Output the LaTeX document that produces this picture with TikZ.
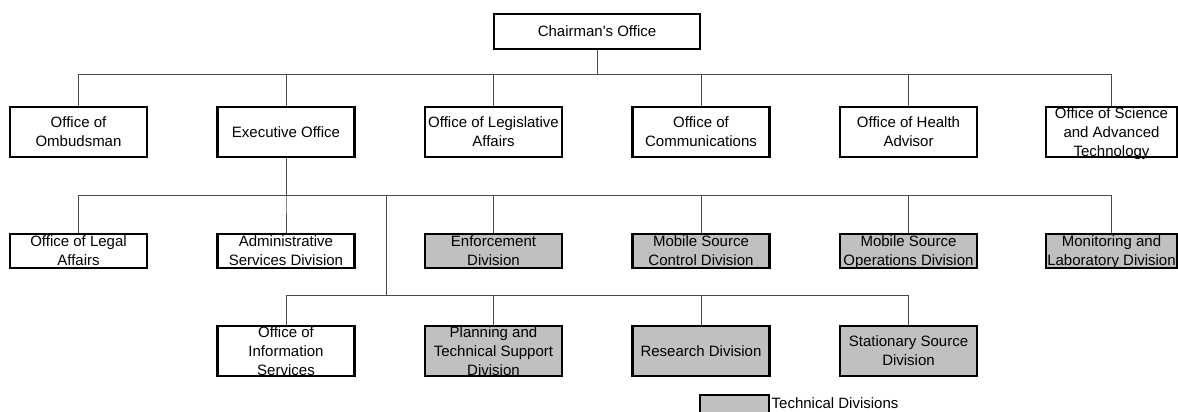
\documentclass[tikz,border=0pt]{standalone}
\usepackage{fontspec}
\setmainfont{Liberation Sans}

\definecolor{techgrey}{HTML}{C0C0C0}
\definecolor{linkgrey}{HTML}{4A4A4A}

% every text line sits in a 19pt line box
\newcommand{\lnstrut}{\rule[-4.5pt]{0pt}{19pt}}
\newcommand{\chartfont}{\fontsize{15pt}{19pt}\selectfont}
% box text with struts on its first and last line
\newcommand{\tx}[1]{\lnstrut#1\lnstrut}

\tikzset{
  unit/.style={draw=black, line width=2.4pt, fill=white,
    inner xsep=0pt, inner ysep=0pt, align=center, font=\chartfont,
    minimum width=137pt, minimum height=50pt},
  tech/.style={unit, fill=techgrey},
  lowrow/.style={minimum height=34pt, inner ysep=-2pt},
  threeline/.style={inner ysep=-3.5pt},
  narrow/.style={minimum width=131pt},
  link/.style={draw=linkgrey, line width=1pt},
}

\begin{document}
\begin{tikzpicture}[x=1pt,y=-1pt]
\path[use as bounding box, clip] (0,0) rectangle (1178,412);

% top
\node[unit, minimum width=206pt, minimum height=35pt] (chair) at (597,31.5) {\tx{Chairman\textquotesingle s Office}};

% offices reporting to the chairman
\node[unit] (omb)    at (78.5,132)  {\tx{Office of\\Ombudsman}};
\node[unit] (exec)   at (286,132)   {\tx{Executive Office}};
\node[unit] (leg)    at (493.5,132) {\tx{Office of Legislative\\Affairs}};
\node[unit] (comm)   at (701,132)   {\tx{Office of\\Communications}};
\node[unit] (health) at (908.5,132) {\tx{Office of Health\\Advisor}};
\node[unit, narrow, threeline] (sci) at (1111.5,132) {\tx{Office of Science\\and Advanced\\Technology}};

% units under the executive office
\node[unit, lowrow] (legal) at (78.5,251)  {\tx{Office of Legal\\Affairs}};
\node[unit, lowrow] (admin) at (286,251)   {\tx{Administrative\\Services Division}};
\node[tech, lowrow] (enf)   at (493.5,251) {\tx{Enforcement\\Division}};
\node[tech, lowrow] (msc)   at (701,251)   {\tx{Mobile Source\\Control Division}};
\node[tech, lowrow] (mso)   at (908.5,251) {\tx{Mobile Source\\Operations Division}};
\node[tech, lowrow, narrow] (mon) at (1111.5,251) {\tx{Monitoring and\\Laboratory Division}};

\node[unit, threeline] (info) at (286,351)   {\tx{Office of\\Information\\Services}};
\node[tech, threeline] (plan) at (493.5,351) {\tx{Planning and\\Technical Support\\Division}};
\node[tech]            (res)  at (701,351)   {\tx{Research Division}};
\node[tech]            (stat) at (908.5,351) {\tx{Stationary Source\\Division}};

% legend
\node[tech, minimum width=69pt, minimum height=28pt] (key) at (734.5,409) {};
\node[font=\chartfont, anchor=west, inner sep=0pt, text height=10.8pt, text depth=0pt]
  (keytext) at (771.5,403) {Technical Divisions};

% connectors
\coordinate (bus1) at (597,75);
\coordinate (bus2) at (286,195);
\coordinate (hub)  at (386.5,295);

\foreach \n in {omb,exec,leg,comm,health,sci}
  \draw[link] (chair.south) -- (bus1) -| (\n.north);
\foreach \n in {legal,admin,enf,msc,mso,mon}
  \draw[link] (exec.south) -- (bus2) -| (\n.north);
\draw[link] (bus2) -| (hub);
\foreach \n in {info,plan,res,stat}
  \draw[link] (hub) -| (\n.north);
\end{tikzpicture}
\end{document}
